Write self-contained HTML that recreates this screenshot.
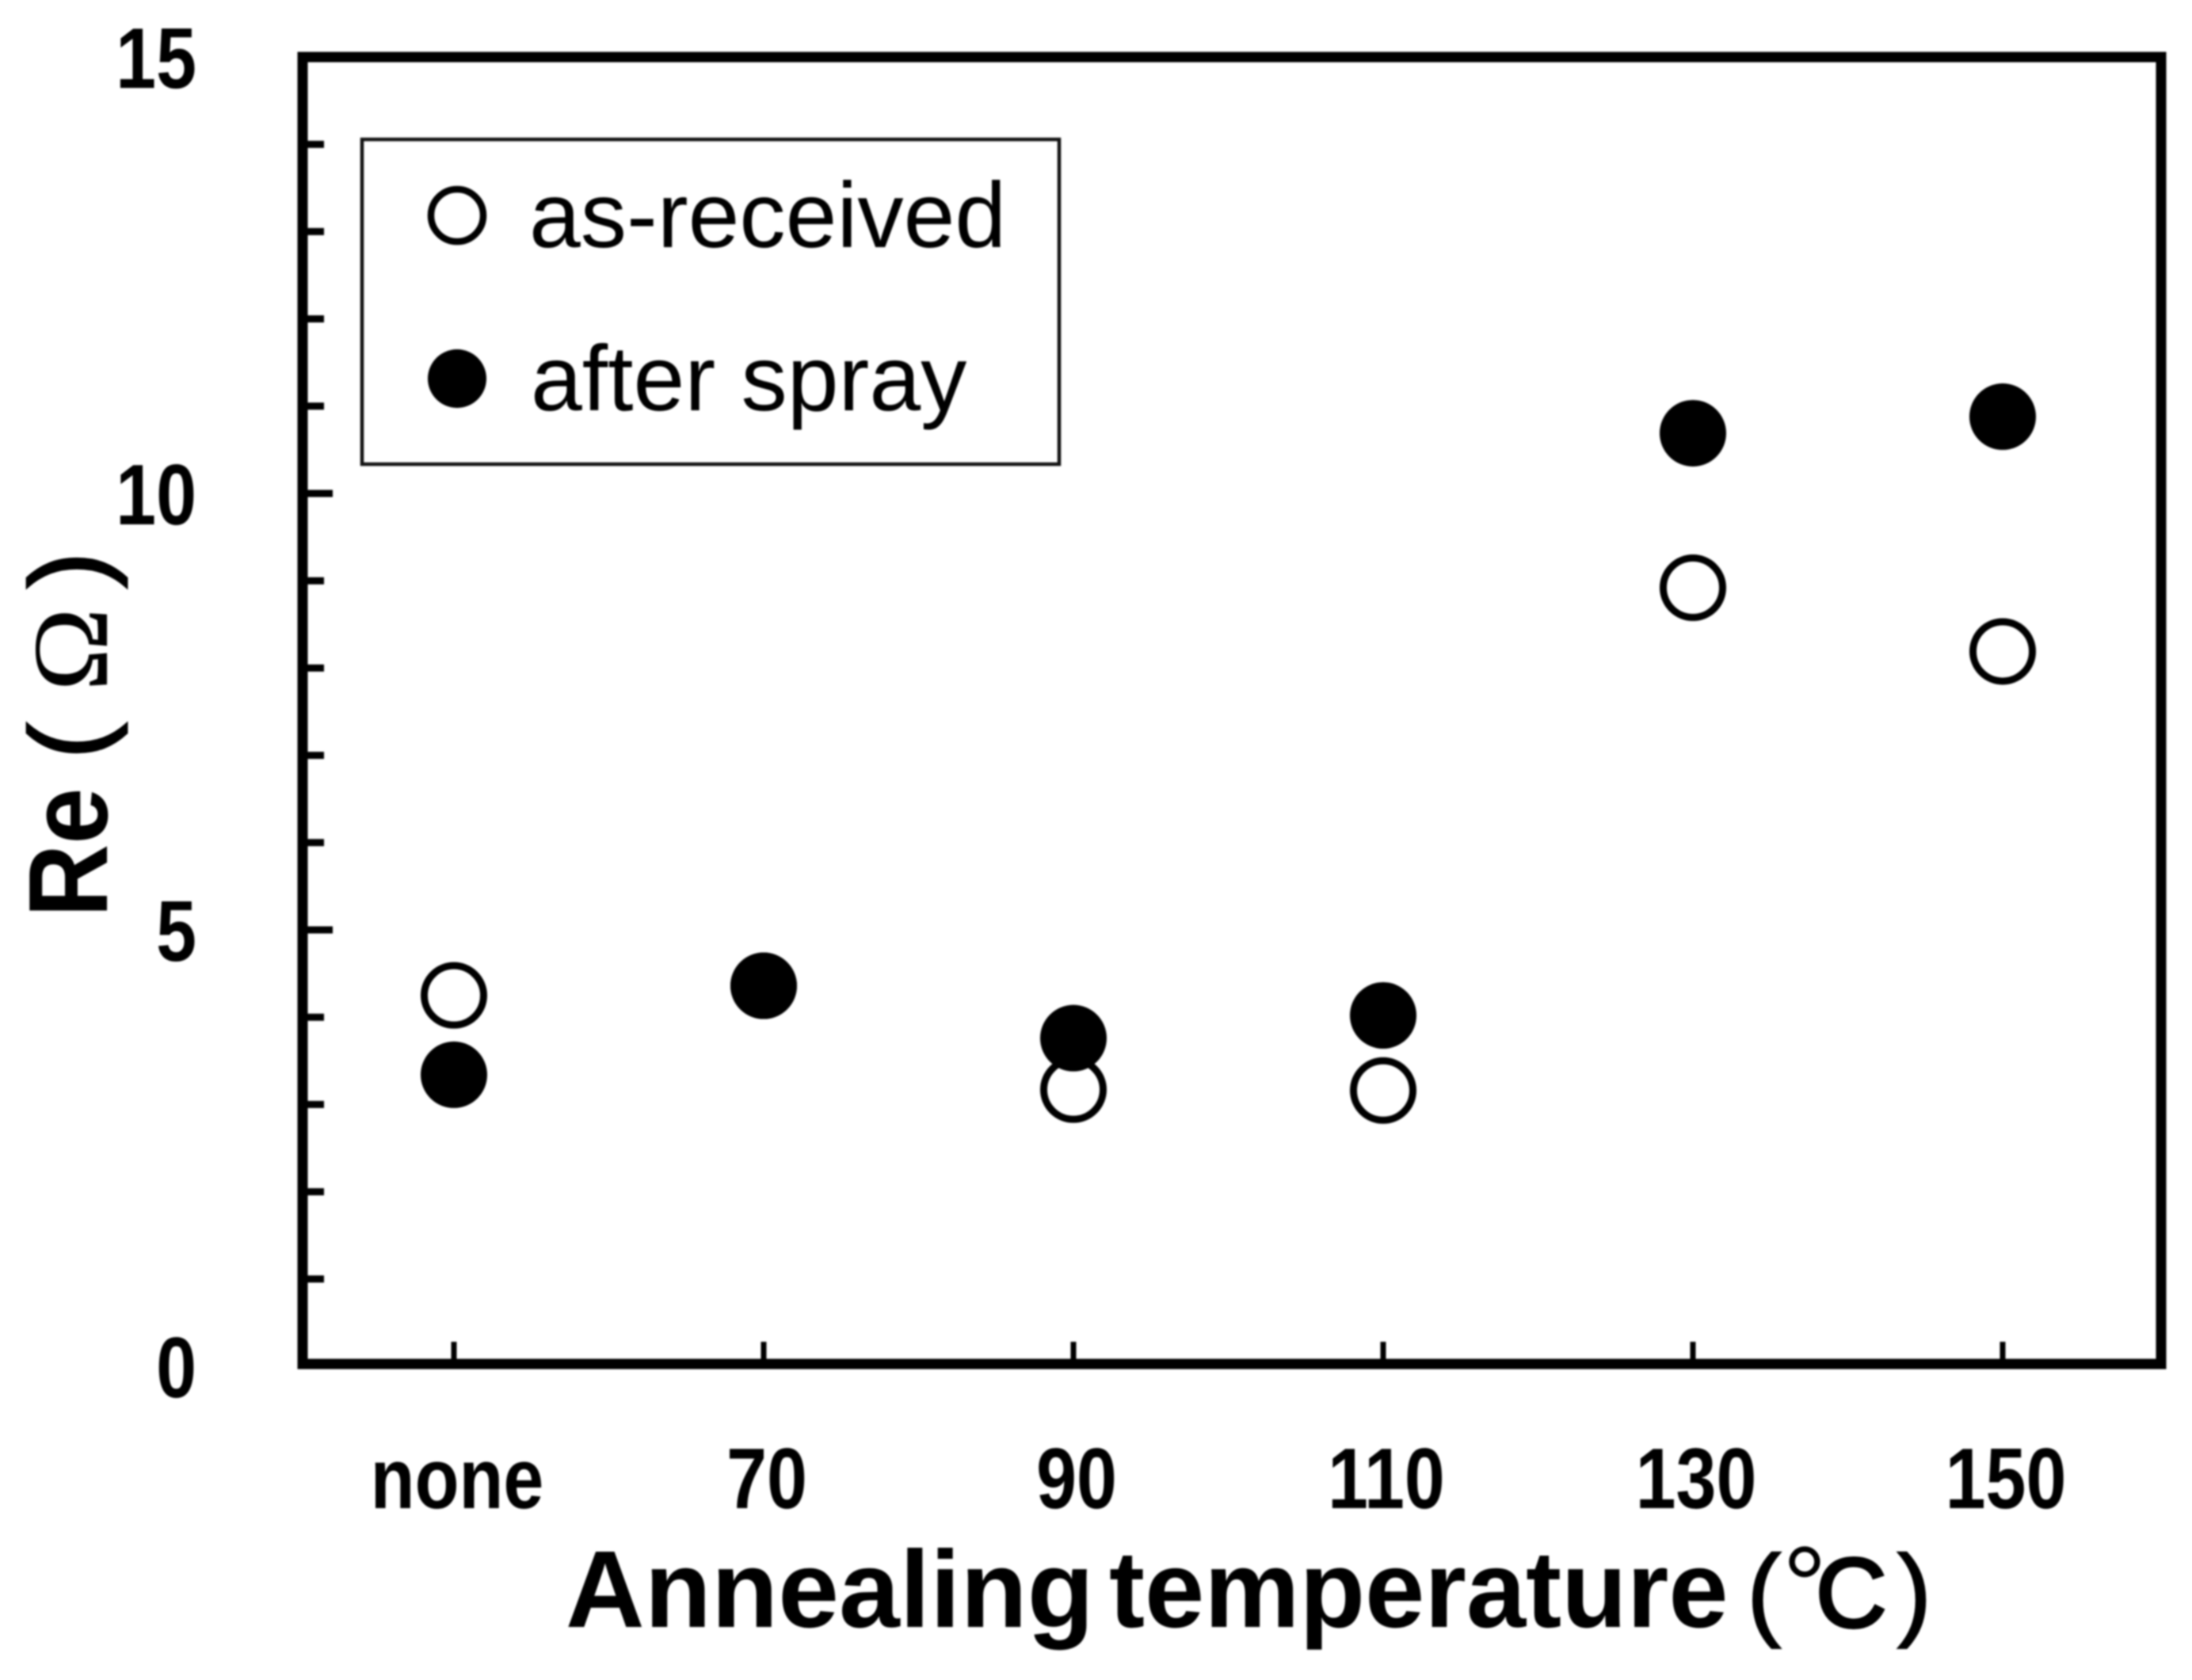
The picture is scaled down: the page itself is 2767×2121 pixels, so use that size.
<!DOCTYPE html>
<html lang="en">
<head>
<meta charset="utf-8">
<title>Re vs annealing temperature</title>
<style>
  html, body { margin: 0; padding: 0; background: #fff; }
  svg { display: block; filter: blur(1px); }
  text { fill: #000; font-family: "Liberation Sans", sans-serif; }
  .tick-label { font-weight: bold; font-size: 109px; }
  .legend-text { font-size: 116.5px; }
  .x-title { font-weight: bold; font-size: 138px; }
</style>
</head>
<body>
<svg id="chart" xmlns="http://www.w3.org/2000/svg" width="2767" height="2121" viewBox="0 0 2767 2121">
  <rect x="0" y="0" width="2767" height="2121" fill="#fff"/>

  <g id="ticks"></g>
  <g id="labels"></g>

  <rect x="382" y="72" width="2346" height="1650" fill="none" stroke="#000" stroke-width="13"/>

  <g>
    <rect x="457" y="176" width="880" height="410" fill="#fff" stroke="#111" stroke-width="4.5"/>
    <circle cx="577" cy="272" r="33" fill="#fff" stroke="#000" stroke-width="8.5"/>
    <text class="legend-text" x="668" y="312">as-received</text>
    <circle cx="577" cy="478" r="37" fill="#000"/>
    <text class="legend-text" x="670" y="518">after spray</text>
  </g>

  <g id="markers"></g>

  <g>
    <text transform="translate(135,1158) rotate(-90) scale(0.9,1)" font-size="142" font-weight="bold">Re</text>
    <text transform="translate(132,958) rotate(-90)" font-size="135" stroke="#000" stroke-width="3">(</text>
    <text transform="translate(135,873) rotate(-90) scale(1.05,1)" font-size="136" style="font-family:'Liberation Serif',serif">Ω</text>
    <text transform="translate(132,742) rotate(-90)" font-size="135" stroke="#000" stroke-width="3">)</text>
  </g>

  <g>
    <text class="x-title" x="714" y="2054">Annealing</text>
    <text class="x-title" transform="translate(1400,2054) scale(0.98,1)">temperature</text>
    <text x="2205" y="2054" font-size="130" stroke="#000" stroke-width="2">(</text>
    <text x="2250" y="2050" font-size="140">°</text>
    <text x="2292" y="2054" font-size="124" stroke="#000" stroke-width="4">C</text>
    <text x="2395" y="2054" font-size="130" stroke="#000" stroke-width="2">)</text>
  </g>
</svg>

<script>
const categories = ["none", "70", "90", "110", "130", "150"];
const asReceived = [4.25, 4.36, 3.17, 3.16, 8.92, 8.19];
const afterSpray = [3.34, 4.36, 3.76, 4.02, 10.69, 10.88];
const yMajorTicks = [0, 5, 10, 15];
const yMinorTicks = [1, 2, 3, 4, 6, 7, 8, 9, 11, 12, 13, 14];

const SVGNS = "http://www.w3.org/2000/svg";
function xScale(index) { return 573 + 391 * index; }
function yScale(value) { return 1725 - 110.2 * value; }

function make(tag, parent, attrs) {
  const node = document.createElementNS(SVGNS, tag);
  for (const key in attrs) node.setAttribute(key, attrs[key]);
  parent.appendChild(node);
  return node;
}

const tickGroup = document.getElementById("ticks");
const labelGroup = document.getElementById("labels");
const markerGroup = document.getElementById("markers");

yMinorTicks.forEach(function (v) {
  const el = make("line", tickGroup, { x1: 382, x2: 409, y1: yScale(v), y2: yScale(v), stroke: "#000", "stroke-width": 9 });
  
  
});

yMajorTicks.forEach(function (v) {
  if (v !== 0 && v !== 15) {
    const el = make("line", tickGroup, { x1: 382, x2: 420, y1: yScale(v), y2: yScale(v), stroke: "#000", "stroke-width": 9 });
    
    
  }
  const label = make("text", labelGroup, {
    "class": "tick-label",
    "text-anchor": "end",
    transform: "translate(248," + (yScale(v) + 39) + ") scale(0.84,1)"
  });
  label.textContent = String(v);
  
  
});

categories.forEach(function (name, i) {
  const el = make("line", tickGroup, { x1: xScale(i), x2: xScale(i), y1: 1694, y2: 1722, stroke: "#000", "stroke-width": 7 });
  
  
  const label = make("text", labelGroup, {
    "class": "tick-label",
    "text-anchor": "middle",
    transform: "translate(" + (xScale(i) + 4) + ",1904) scale(0.84,1)"
  });
  label.textContent = name;
  
  
});

asReceived.forEach(function (v, i) {
  const el = make("circle", markerGroup, { cx: xScale(i), cy: yScale(v), r: 37.5, fill: "#fff", stroke: "#000", "stroke-width": 9 });
  
  
});

afterSpray.forEach(function (v, i) {
  const el = make("circle", markerGroup, { cx: xScale(i), cy: yScale(v), r: 42, fill: "#000" });
  
  
});
</script>
</body>
</html>
